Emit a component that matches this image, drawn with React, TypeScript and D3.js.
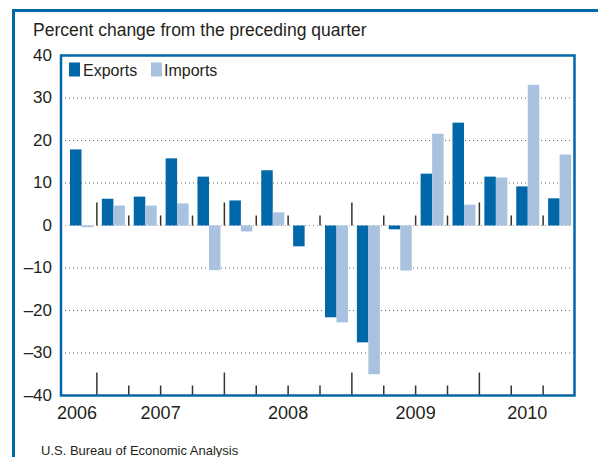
import * as d3 from 'd3'

const quarters = [
  '2006Q4',
  '2007Q1', '2007Q2', '2007Q3', '2007Q4',
  '2008Q1', '2008Q2', '2008Q3', '2008Q4',
  '2009Q1', '2009Q2', '2009Q3', '2009Q4',
  '2010Q1', '2010Q2', '2010Q3',
]
const exportsPct = [17.9, 6.3, 6.8, 15.8, 11.5, 5.9, 13.0, -4.9, -21.6, -27.5, -0.9, 12.2, 24.2, 11.5, 9.2, 6.4]
const importsPct = [-0.4, 4.7, 4.7, 5.2, -10.5, -1.4, 3.1, 0, -22.8, -35.0, -10.6, 21.6, 4.9, 11.3, 33.1, 16.7]
const years = ['2006', '2007', '2008', '2009', '2010']
const yTicks = [40, 30, 20, 10, 0, -10, -20, -30, -40]
const seriesNames = ['Exports', 'Imports']

const W = 598
const H = 457
const BLUE = '#0067a8'
const LIGHT = '#a8c2e0'
const INK = '#231f20'
const FONT = '"Liberation Sans", Arial, Helvetica, sans-serif'

export default function App() {
  const box = { left: 61, right: 574.5, top: 55.5, bottom: 395.5 }

  const x = d3.scaleBand<string>().domain(quarters).range([65, 575]).padding(0)
  const inner = d3.scaleBand<string>().domain(seriesNames).range([5, 28]).padding(0)
  const y = d3.scaleLinear().domain([-40, 40]).range([box.bottom, box.top])

  const rows = quarters.map((q, i) => ({ q, values: [exportsPct[i], importsPct[i]] }))

  // quarter boundaries; the year boundaries get the tall ticks
  const bounds = quarters.slice(1).map((q, i) => ({
    x: x(q)!,
    year: q.endsWith('Q1'),
    i,
  }))

  // year label centered over its quarters
  const yearLabels = years.map(yr => {
    const qs = quarters.filter(q => q.startsWith(yr))
    const x0 = x(qs[0])!
    const x1 = x(qs[qs.length - 1])! + x.bandwidth()
    return { yr, cx: yr === '2006' ? (x0 + x1) / 2 - 4 : (x0 + x1) / 2 }
  })

  const gridVals = yTicks.filter(v => v !== 40 && v !== -40)

  return (
    <svg
      width={W}
      height={H}
      style={{ position: 'absolute', left: 0, top: 0, background: '#fff' }}
      fontFamily={FONT}
    >
      <rect x={13.5} y={10.5} width={W} height={H} fill="none" stroke={BLUE} strokeWidth={3} />

      <text x={33} y={36} fontSize={17.5} fill={INK}>Percent change from the preceding quarter</text>

      {gridVals.map(v => (
        <line
          key={v}
          x1={box.left}
          x2={box.right}
          y1={y(v)}
          y2={y(v)}
          stroke={v === 0 ? '#999' : '#666'}
          strokeWidth={1}
          strokeDasharray="1,3"
        />
      ))}

      {rows.map((r, i) => (
        <g key={r.q} transform={`translate(${x(r.q)},0)`}>
          {r.values.map((v, j) => (
            <rect
              key={j}
              x={inner(seriesNames[j])}
              width={inner.bandwidth()}
              y={y(Math.max(0, v))}
              height={Math.abs(y(v) - y(0))}
              fill={j === 0 ? BLUE : LIGHT}
            />
          ))}
        </g>
      ))}

      {bounds.map(b => (
        <g key={b.i} stroke="#333" strokeWidth={1.5}>
          <line x1={b.x} x2={b.x} y1={y(0)} y2={y(0) - (b.year ? 23 : 10)} />
          <line x1={b.x} x2={b.x} y1={box.bottom} y2={box.bottom - (b.year ? 23 : 10)} />
        </g>
      ))}

      <rect
        x={box.left}
        y={box.top}
        width={box.right - box.left}
        height={box.bottom - box.top}
        fill="none"
        stroke={BLUE}
        strokeWidth={2.5}
      />

      {yTicks.map(v => (
        <text key={v} x={52} y={y(v) + 5} fontSize={17} textAnchor="end" fill={INK}>
          {v < 0 ? `\u2013${Math.abs(v)}` : v}
        </text>
      ))}

      {yearLabels.map(d => (
        <text key={d.yr} x={d.cx} y={419} fontSize={18} textAnchor="middle" fill={INK}>
          {d.yr}
        </text>
      ))}

      <g>
        <rect x={69} y={62.5} width={11} height={14} fill={BLUE} />
        <text x={83} y={76} fontSize={16} fill={INK}>Exports</text>
        <rect x={151} y={62.5} width={11} height={14} fill={LIGHT} />
        <text x={164} y={76} fontSize={16} fill={INK}>Imports</text>
      </g>

      <text x={41} y={455} fontSize={13} fill={INK}>U.S. Bureau of Economic Analysis</text>
    </svg>
  )
}
